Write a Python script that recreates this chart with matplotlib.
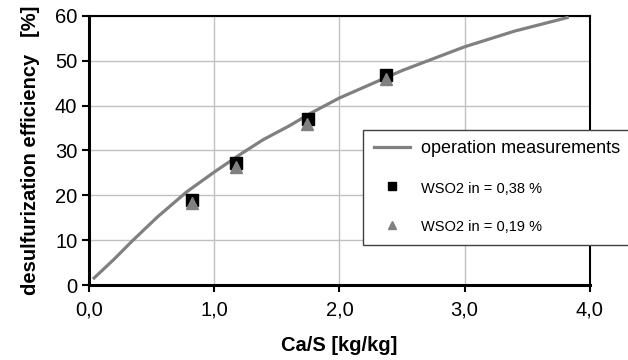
import matplotlib.pyplot as plt

plt.rcParams['font.family'] = ['Liberation Sans', 'DejaVu Sans']

curve_x = [0.04, 0.2, 0.35, 0.55, 0.78, 1.0, 1.2, 1.39, 1.6, 1.77, 2.0, 2.5, 3.0, 3.4, 3.82]
curve_y = [1.6, 5.8, 10.0, 15.3, 20.8, 25.2, 29.0, 32.4, 35.5, 38.3, 41.7, 47.8, 53.1, 56.6, 59.6]

# WSO2 in = 0,38 %
sq_x = [0.82, 1.17, 1.75, 2.37]
sq_y = [19.0, 27.3, 37.0, 46.9]

# WSO2 in = 0,19 %
tri_x = [0.82, 1.17, 1.74, 2.37]
tri_y = [18.2, 26.3, 36.0, 46.0]

xticks = [0, 1, 2, 3, 4]
xtick_labels = ['0,0', '1,0', '2,0', '3,0', '4,0']
yticks = [0, 10, 20, 30, 40, 50, 60]

fig = plt.figure(figsize=(6.28, 3.6), dpi=100)
ax = fig.add_axes([0.142, 0.208, 0.797, 0.748])

line, = ax.plot(curve_x, curve_y, color='#808080', lw=2.3, zorder=3)
sq, = ax.plot(sq_x, sq_y, 's', color='black', ms=9, zorder=4)
tri, = ax.plot(tri_x, tri_y, '^', color='#808080', ms=9, zorder=5)

ax.set_xlim(0, 4)
ax.set_ylim(0, 60)
ax.set_xticks(xticks)
ax.set_xticklabels(xtick_labels)
ax.set_yticks(yticks)
ax.grid(True, color='#c0c0c0', lw=1)
ax.set_axisbelow(True)
for s in ax.spines.values():
    s.set_color('black')
    s.set_linewidth(1.5)
ax.spines['bottom'].set_linewidth(2.2)
ax.spines['left'].set_linewidth(2.2)
ax.tick_params(direction='out', length=5, width=1.5, labelsize=14.5, colors='black')
ax.tick_params(axis='x', pad=6)

ax.set_xlabel('Ca/S [kg/kg]', fontsize=14.5, fontweight='bold', labelpad=12)
ax.set_ylabel('desulfurization efficiency   [%]', fontsize=14.5, fontweight='bold', labelpad=11)

leg = fig.legend([line, sq, tri],
                 ['operation measurements', 'WSO2 in = 0,38 %', 'WSO2 in = 0,19 %'],
                 loc='upper left', bbox_to_anchor=(0.578, 0.64), fancybox=False,
                 edgecolor='#404040', framealpha=1, fontsize=13, labelspacing=1.25,
                 handlelength=2.0, handletextpad=0.6, borderpad=0.6, borderaxespad=0)
leg.get_frame().set_linewidth(1)
for h in leg.legend_handles[1:]:
    h.set_markersize(6)
for t in leg.get_texts()[1:]:
    t.set_fontsize(10.5)

fig.savefig('out.png', dpi=100)
